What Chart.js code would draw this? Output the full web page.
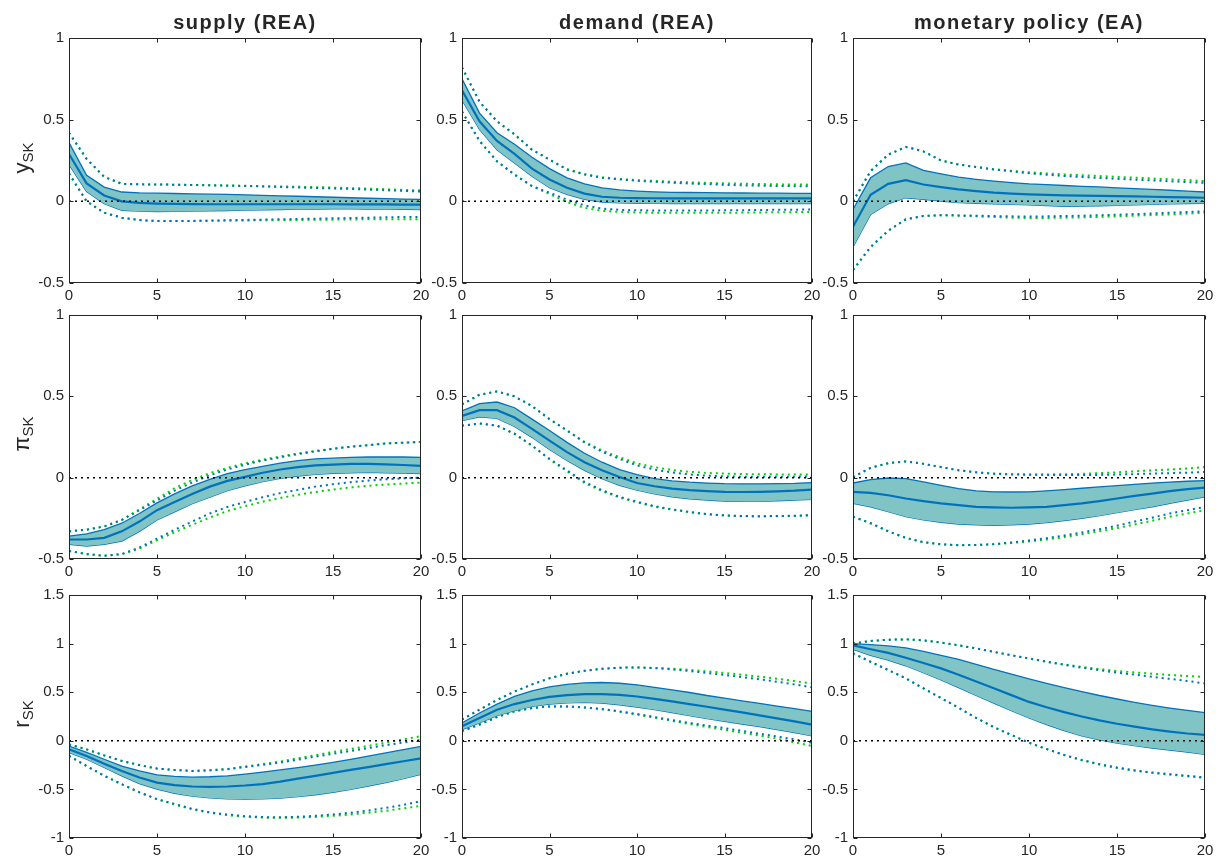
<!DOCTYPE html>
<html>
<head>
<meta charset="utf-8">
<script src="https://cdn.jsdelivr.net/npm/chart.js@4.4.0/dist/chart.umd.min.js"></script>
<style>
  body {
    margin: 0;
    background: #fff;
    width: 1221px;
    height: 864px;
    position: relative;
    overflow: hidden;
    font-family: "Liberation Sans", Arial, sans-serif;
  }
  .panel { position: absolute; }
  .title {
    position: absolute;
    font-weight: bold;
    font-size: 20px;
    line-height: 20px;
    letter-spacing: 1.5px;
    color: #262626;
    transform: translateX(-50%);
    white-space: nowrap;
  }
  .ylab {
    position: absolute;
    font-size: 22px;
    color: #262626;
    transform: translate(-50%, -50%) rotate(-90deg);
    white-space: nowrap;
  }
  .ylab sub { font-size: 15px; vertical-align: -4px; }
</style>
</head>
<body>
<script>
// horizons 0..20
const horizons = [0, 1, 2, 3, 4, 5, 6, 7, 8, 9, 10, 11, 12, 13, 14, 15, 16, 17, 18, 19, 20];
const zeroLine = [0, 0, 0, 0, 0, 0, 0, 0, 0, 0, 0, 0, 0, 0, 0, 0, 0, 0, 0, 0, 0];

const shockTitles = ["supply (REA)", "demand (REA)", "monetary policy (EA)"];
const varLabels = ["y<sub>SK</sub>", "π<sub>SK</sub>", "r<sub>SK</sub>"];
const yRanges = [[-0.5, 1], [-0.5, 1], [-1, 1.5]];
const xTicks = [0, 5, 10, 15, 20];

// ---- y_SK ----
const ySup_med = [0.29, 0.11, 0.036, 0.0, -0.01, -0.014, -0.016, -0.017, -0.018, -0.018, -0.018, -0.018, -0.018, -0.018, -0.018, -0.018, -0.019, -0.019, -0.019, -0.02, -0.02];
const ySup_hi = [0.36, 0.16, 0.087, 0.057, 0.052, 0.05, 0.048, 0.046, 0.044, 0.042, 0.04, 0.037, 0.034, 0.031, 0.028, 0.025, 0.022, 0.019, 0.016, 0.014, 0.012];
const ySup_lo = [0.225, 0.06, -0.015, -0.055, -0.06, -0.063, -0.062, -0.06, -0.058, -0.056, -0.054, -0.052, -0.05, -0.048, -0.047, -0.046, -0.046, -0.047, -0.048, -0.049, -0.05];
const ySup_dotHi = [0.42, 0.26, 0.15, 0.107, 0.104, 0.103, 0.102, 0.1, 0.098, 0.096, 0.094, 0.091, 0.088, 0.085, 0.082, 0.079, 0.076, 0.072, 0.068, 0.064, 0.06];
const ySup_dotHiG = [0.42, 0.26, 0.15, 0.107, 0.104, 0.103, 0.102, 0.1, 0.099, 0.097, 0.095, 0.093, 0.091, 0.089, 0.087, 0.084, 0.081, 0.078, 0.074, 0.07, 0.067];
const ySup_dotLo = [0.17, 0.0, -0.07, -0.1, -0.115, -0.12, -0.121, -0.12, -0.118, -0.116, -0.114, -0.112, -0.11, -0.108, -0.106, -0.104, -0.102, -0.1, -0.098, -0.096, -0.095];
const ySup_dotLoG = [0.17, 0.0, -0.07, -0.1, -0.115, -0.12, -0.121, -0.12, -0.119, -0.118, -0.117, -0.116, -0.115, -0.114, -0.113, -0.112, -0.111, -0.11, -0.11, -0.11, -0.11];

const yDem_med = [0.68, 0.49, 0.37, 0.29, 0.2, 0.134, 0.083, 0.047, 0.028, 0.022, 0.02, 0.019, 0.018, 0.018, 0.018, 0.018, 0.018, 0.018, 0.018, 0.018, 0.018];
const yDem_hi = [0.75, 0.54, 0.42, 0.35, 0.27, 0.2, 0.144, 0.107, 0.083, 0.07, 0.063, 0.058, 0.055, 0.054, 0.053, 0.052, 0.051, 0.05, 0.05, 0.049, 0.049];
const yDem_lo = [0.62, 0.44, 0.316, 0.235, 0.154, 0.083, 0.043, 0.012, -0.004, -0.01, -0.012, -0.013, -0.014, -0.014, -0.014, -0.014, -0.014, -0.014, -0.014, -0.014, -0.014];
const yDem_dotHi = [0.82, 0.61, 0.49, 0.41, 0.316, 0.255, 0.195, 0.164, 0.144, 0.134, 0.126, 0.12, 0.114, 0.109, 0.105, 0.101, 0.098, 0.096, 0.094, 0.093, 0.092];
const yDem_dotHiG = [0.82, 0.61, 0.49, 0.41, 0.316, 0.255, 0.197, 0.167, 0.148, 0.137, 0.13, 0.125, 0.12, 0.116, 0.113, 0.11, 0.108, 0.106, 0.104, 0.103, 0.102];
const yDem_dotLo = [0.55, 0.37, 0.245, 0.164, 0.093, 0.053, 0.01, -0.025, -0.045, -0.052, -0.055, -0.056, -0.056, -0.056, -0.056, -0.055, -0.054, -0.053, -0.052, -0.051, -0.05];
const yDem_dotLoG = [0.55, 0.37, 0.245, 0.164, 0.093, 0.045, -0.005, -0.04, -0.058, -0.065, -0.068, -0.07, -0.07, -0.07, -0.07, -0.07, -0.069, -0.068, -0.067, -0.066, -0.065];

const yMon_med = [-0.156, 0.04, 0.107, 0.13, 0.103, 0.087, 0.073, 0.062, 0.053, 0.047, 0.043, 0.04, 0.037, 0.035, 0.033, 0.032, 0.03, 0.028, 0.026, 0.024, 0.022];
const yMon_hi = [-0.05, 0.144, 0.213, 0.235, 0.19, 0.168, 0.148, 0.135, 0.124, 0.115, 0.107, 0.102, 0.097, 0.092, 0.088, 0.083, 0.078, 0.073, 0.068, 0.063, 0.057];
const yMon_lo = [-0.28, -0.08, -0.015, 0.022, 0.012, 0.002, -0.008, -0.012, -0.015, -0.019, -0.022, -0.026, -0.03, -0.029, -0.027, -0.025, -0.022, -0.019, -0.016, -0.014, -0.012];
const yMon_dotHi = [0.0, 0.185, 0.286, 0.333, 0.306, 0.25, 0.225, 0.21, 0.195, 0.184, 0.172, 0.163, 0.155, 0.149, 0.143, 0.138, 0.133, 0.128, 0.123, 0.118, 0.113];
const yMon_dotHiG = [0.0, 0.185, 0.286, 0.333, 0.306, 0.25, 0.225, 0.21, 0.197, 0.187, 0.178, 0.171, 0.165, 0.16, 0.155, 0.15, 0.145, 0.14, 0.135, 0.13, 0.124];
const yMon_dotLo = [-0.42, -0.28, -0.18, -0.11, -0.09, -0.085, -0.086, -0.088, -0.09, -0.092, -0.093, -0.092, -0.09, -0.088, -0.085, -0.082, -0.078, -0.074, -0.07, -0.065, -0.06];
const yMon_dotLoG = [-0.42, -0.28, -0.18, -0.11, -0.09, -0.085, -0.088, -0.092, -0.096, -0.1, -0.102, -0.102, -0.1, -0.098, -0.095, -0.092, -0.088, -0.084, -0.08, -0.075, -0.07];

// ---- pi_SK ----
const piSup_med = [-0.38, -0.38, -0.37, -0.33, -0.27, -0.2, -0.15, -0.1, -0.055, -0.02, 0.005, 0.03, 0.05, 0.065, 0.075, 0.08, 0.085, 0.085, 0.082, 0.078, 0.073];
const piSup_hi = [-0.36, -0.345, -0.32, -0.28, -0.22, -0.155, -0.1, -0.05, -0.01, 0.025, 0.05, 0.07, 0.09, 0.105, 0.115, 0.12, 0.125, 0.127, 0.127, 0.127, 0.125];
const piSup_lo = [-0.41, -0.42, -0.41, -0.39, -0.33, -0.26, -0.21, -0.16, -0.12, -0.08, -0.05, -0.025, -0.005, 0.01, 0.02, 0.027, 0.03, 0.032, 0.03, 0.028, 0.025];
const piSup_dotHi = [-0.33, -0.32, -0.3, -0.26, -0.2, -0.14, -0.08, -0.03, 0.015, 0.05, 0.08, 0.105, 0.125, 0.145, 0.162, 0.177, 0.19, 0.2, 0.21, 0.215, 0.22];
const piSup_dotHiG = [-0.33, -0.32, -0.3, -0.26, -0.195, -0.13, -0.065, -0.015, 0.028, 0.06, 0.088, 0.11, 0.13, 0.148, 0.164, 0.178, 0.19, 0.2, 0.21, 0.215, 0.22];
const piSup_dotLo = [-0.45, -0.47, -0.48, -0.47, -0.43, -0.375, -0.32, -0.27, -0.22, -0.18, -0.15, -0.12, -0.095, -0.075, -0.055, -0.04, -0.028, -0.018, -0.01, -0.004, 0.0];
const piSup_dotLoG = [-0.45, -0.47, -0.48, -0.47, -0.435, -0.385, -0.335, -0.29, -0.245, -0.205, -0.175, -0.148, -0.125, -0.105, -0.088, -0.073, -0.06, -0.05, -0.042, -0.036, -0.03];

const piDem_med = [0.38, 0.415, 0.415, 0.37, 0.3, 0.228, 0.157, 0.095, 0.045, 0.004, -0.033, -0.053, -0.067, -0.077, -0.083, -0.087, -0.088, -0.087, -0.084, -0.08, -0.073];
const piDem_hi = [0.41, 0.455, 0.465, 0.43, 0.36, 0.29, 0.217, 0.15, 0.095, 0.049, 0.018, -0.006, -0.02, -0.028, -0.033, -0.037, -0.038, -0.038, -0.037, -0.035, -0.03];
const piDem_lo = [0.35, 0.374, 0.364, 0.315, 0.248, 0.173, 0.106, 0.045, -0.006, -0.047, -0.077, -0.1, -0.118, -0.13, -0.138, -0.144, -0.146, -0.146, -0.142, -0.138, -0.134];
const piDem_dotHi = [0.45, 0.51, 0.53, 0.5, 0.44, 0.36, 0.29, 0.217, 0.16, 0.115, 0.075, 0.05, 0.032, 0.02, 0.012, 0.008, 0.006, 0.005, 0.005, 0.006, 0.008];
const piDem_dotHiG = [0.45, 0.51, 0.53, 0.5, 0.44, 0.36, 0.29, 0.22, 0.167, 0.126, 0.088, 0.065, 0.047, 0.036, 0.029, 0.025, 0.022, 0.021, 0.02, 0.02, 0.02];
const piDem_dotLo = [0.32, 0.333, 0.32, 0.27, 0.197, 0.116, 0.045, -0.026, -0.077, -0.118, -0.148, -0.175, -0.195, -0.21, -0.224, -0.232, -0.236, -0.237, -0.236, -0.234, -0.23];
const piDem_dotLoG = [0.32, 0.333, 0.32, 0.27, 0.197, 0.112, 0.04, -0.032, -0.082, -0.122, -0.152, -0.178, -0.197, -0.212, -0.225, -0.233, -0.237, -0.238, -0.237, -0.235, -0.232];

const piMon_med = [-0.087, -0.093, -0.108, -0.128, -0.144, -0.158, -0.169, -0.179, -0.183, -0.185, -0.183, -0.179, -0.169, -0.158, -0.144, -0.128, -0.112, -0.098, -0.083, -0.071, -0.061];
const piMon_hi = [-0.033, -0.012, -0.002, -0.006, -0.026, -0.047, -0.067, -0.081, -0.087, -0.088, -0.087, -0.081, -0.073, -0.065, -0.057, -0.049, -0.041, -0.033, -0.027, -0.022, -0.018];
const piMon_lo = [-0.158, -0.179, -0.209, -0.24, -0.26, -0.274, -0.285, -0.29, -0.293, -0.29, -0.285, -0.276, -0.264, -0.25, -0.234, -0.215, -0.197, -0.179, -0.158, -0.138, -0.118];
const piMon_dotHi = [0.004, 0.06, 0.089, 0.1, 0.085, 0.065, 0.045, 0.033, 0.024, 0.02, 0.018, 0.017, 0.016, 0.016, 0.017, 0.019, 0.022, 0.025, 0.028, 0.031, 0.035];
const piMon_dotHiG = [0.004, 0.06, 0.089, 0.1, 0.085, 0.065, 0.045, 0.033, 0.025, 0.021, 0.02, 0.02, 0.021, 0.023, 0.028, 0.033, 0.039, 0.045, 0.05, 0.057, 0.065];
const piMon_dotLo = [-0.24, -0.28, -0.33, -0.37, -0.397, -0.41, -0.415, -0.414, -0.408, -0.398, -0.386, -0.372, -0.355, -0.337, -0.317, -0.295, -0.27, -0.246, -0.22, -0.2, -0.18];
const piMon_dotLoG = [-0.24, -0.28, -0.33, -0.37, -0.397, -0.41, -0.415, -0.414, -0.41, -0.402, -0.392, -0.38, -0.365, -0.348, -0.33, -0.31, -0.288, -0.265, -0.24, -0.22, -0.2];

// ---- r_SK ----
const rSup_med = [-0.088, -0.156, -0.235, -0.31, -0.378, -0.43, -0.456, -0.47, -0.473, -0.47, -0.46, -0.445, -0.42, -0.39, -0.36, -0.33, -0.3, -0.27, -0.24, -0.21, -0.18];
const rSup_hi = [-0.054, -0.12, -0.19, -0.26, -0.31, -0.35, -0.367, -0.374, -0.37, -0.36, -0.343, -0.322, -0.3, -0.275, -0.25, -0.222, -0.19, -0.158, -0.125, -0.09, -0.058];
const rSup_lo = [-0.12, -0.19, -0.275, -0.36, -0.44, -0.497, -0.54, -0.57, -0.588, -0.598, -0.6, -0.598, -0.59, -0.575, -0.555, -0.53, -0.5, -0.465, -0.43, -0.39, -0.345];
const rSup_dotHi = [-0.037, -0.088, -0.15, -0.207, -0.25, -0.286, -0.3, -0.31, -0.303, -0.293, -0.27, -0.248, -0.224, -0.194, -0.163, -0.133, -0.105, -0.075, -0.045, -0.018, 0.01];
const rSup_dotHiG = [-0.037, -0.088, -0.15, -0.207, -0.25, -0.286, -0.3, -0.31, -0.303, -0.29, -0.265, -0.24, -0.213, -0.18, -0.148, -0.115, -0.085, -0.052, -0.02, 0.015, 0.048];
const rSup_dotLo = [-0.156, -0.26, -0.36, -0.446, -0.53, -0.6, -0.65, -0.7, -0.735, -0.758, -0.775, -0.785, -0.787, -0.782, -0.772, -0.758, -0.74, -0.717, -0.69, -0.66, -0.62];
const rSup_dotLoG = [-0.156, -0.26, -0.36, -0.446, -0.53, -0.6, -0.655, -0.705, -0.74, -0.765, -0.782, -0.79, -0.792, -0.79, -0.783, -0.772, -0.758, -0.74, -0.72, -0.695, -0.67];

const rDem_med = [0.15, 0.235, 0.32, 0.378, 0.42, 0.452, 0.47, 0.48, 0.48, 0.473, 0.456, 0.432, 0.405, 0.378, 0.35, 0.32, 0.293, 0.262, 0.231, 0.2, 0.167];
const rDem_hi = [0.184, 0.286, 0.378, 0.456, 0.514, 0.554, 0.58, 0.595, 0.6, 0.592, 0.575, 0.55, 0.524, 0.497, 0.466, 0.44, 0.41, 0.384, 0.357, 0.33, 0.303];
const rDem_lo = [0.116, 0.184, 0.258, 0.31, 0.354, 0.378, 0.39, 0.395, 0.388, 0.37, 0.347, 0.32, 0.29, 0.258, 0.228, 0.2, 0.173, 0.146, 0.116, 0.085, 0.05];
const rDem_dotHi = [0.218, 0.32, 0.42, 0.507, 0.58, 0.643, 0.69, 0.72, 0.741, 0.752, 0.755, 0.748, 0.735, 0.718, 0.698, 0.677, 0.655, 0.632, 0.608, 0.58, 0.55];
const rDem_dotHiG = [0.218, 0.32, 0.42, 0.507, 0.58, 0.643, 0.69, 0.72, 0.741, 0.752, 0.755, 0.75, 0.742, 0.73, 0.715, 0.698, 0.68, 0.66, 0.638, 0.615, 0.59];
const rDem_dotLo = [0.1, 0.167, 0.245, 0.303, 0.337, 0.354, 0.354, 0.343, 0.327, 0.303, 0.276, 0.245, 0.214, 0.184, 0.156, 0.13, 0.102, 0.073, 0.045, 0.015, -0.02];
const rDem_dotLoG = [0.1, 0.167, 0.245, 0.303, 0.337, 0.354, 0.354, 0.343, 0.325, 0.3, 0.27, 0.238, 0.205, 0.172, 0.142, 0.113, 0.083, 0.053, 0.022, -0.015, -0.054];

const rMon_med = [0.983, 0.942, 0.905, 0.854, 0.8, 0.745, 0.68, 0.61, 0.54, 0.47, 0.4, 0.345, 0.295, 0.25, 0.21, 0.175, 0.145, 0.118, 0.095, 0.075, 0.06];
const rMon_hi = [1.0, 0.99, 0.976, 0.956, 0.92, 0.88, 0.837, 0.786, 0.735, 0.687, 0.636, 0.59, 0.548, 0.507, 0.466, 0.43, 0.395, 0.364, 0.337, 0.313, 0.29];
const rMon_lo = [0.942, 0.88, 0.83, 0.772, 0.7, 0.626, 0.548, 0.466, 0.388, 0.31, 0.235, 0.167, 0.105, 0.05, 0.01, -0.024, -0.05, -0.075, -0.095, -0.116, -0.14];
const rMon_dotHi = [1.0, 1.027, 1.04, 1.044, 1.034, 1.01, 0.983, 0.95, 0.915, 0.88, 0.847, 0.813, 0.782, 0.752, 0.726, 0.702, 0.68, 0.658, 0.637, 0.615, 0.59];
const rMon_dotHiG = [1.0, 1.027, 1.04, 1.044, 1.034, 1.01, 0.983, 0.95, 0.915, 0.88, 0.847, 0.815, 0.786, 0.76, 0.738, 0.718, 0.704, 0.69, 0.677, 0.667, 0.656];
const rMon_dotLo = [0.9, 0.813, 0.728, 0.643, 0.54, 0.44, 0.34, 0.235, 0.14, 0.06, -0.02, -0.085, -0.146, -0.197, -0.24, -0.275, -0.303, -0.326, -0.343, -0.36, -0.377];
const rMon_dotLoG = [0.9, 0.813, 0.728, 0.643, 0.54, 0.44, 0.34, 0.235, 0.14, 0.06, -0.02, -0.085, -0.146, -0.2, -0.244, -0.28, -0.308, -0.33, -0.348, -0.365, -0.382];

// panel grid: rows = variable, cols = shock
const panels = [
  [
    [ySup_med, ySup_hi, ySup_lo, ySup_dotHi, ySup_dotLo, ySup_dotHiG, ySup_dotLoG],
    [yDem_med, yDem_hi, yDem_lo, yDem_dotHi, yDem_dotLo, yDem_dotHiG, yDem_dotLoG],
    [yMon_med, yMon_hi, yMon_lo, yMon_dotHi, yMon_dotLo, yMon_dotHiG, yMon_dotLoG],
  ],
  [
    [piSup_med, piSup_hi, piSup_lo, piSup_dotHi, piSup_dotLo, piSup_dotHiG, piSup_dotLoG],
    [piDem_med, piDem_hi, piDem_lo, piDem_dotHi, piDem_dotLo, piDem_dotHiG, piDem_dotLoG],
    [piMon_med, piMon_hi, piMon_lo, piMon_dotHi, piMon_dotLo, piMon_dotHiG, piMon_dotLoG],
  ],
  [
    [rSup_med, rSup_hi, rSup_lo, rSup_dotHi, rSup_dotLo, rSup_dotHiG, rSup_dotLoG],
    [rDem_med, rDem_hi, rDem_lo, rDem_dotHi, rDem_dotLo, rDem_dotHiG, rDem_dotLoG],
    [rMon_med, rMon_hi, rMon_lo, rMon_dotHi, rMon_dotLo, rMon_dotHiG, rMon_dotLoG],
  ],
];

// layout (pixel boxes of the plot areas)
const colLeft = [69, 462, 853];
const colWidth = [352, 350, 352];
const rowTop = [36, 313, 593];
const rowHeight = [247, 246, 245];
const padL = 50, padT = 12, padR = 18, padB = 26;

const BLUE = "#0072bd";
const GREEN = "#00d400";
const FILL = "#80c4c5";
const AXIS = "#262626";
const FONT = "'Liberation Sans', Arial, sans-serif";

const series = (vals) => horizons.map((h, i) => ({ x: h, y: vals[i] }));

// box + inward ticks like matlab
const framePlugin = {
  id: "frame",
  afterDraw(chart) {
    const { ctx, chartArea: a, scales } = chart;
    const L = Math.round(a.left) + 0.5, R = Math.round(a.right) - 0.5;
    const T = Math.round(a.top) + 0.5, B = Math.round(a.bottom) - 0.5;
    ctx.save();
    ctx.strokeStyle = AXIS;
    ctx.lineWidth = 1;
    ctx.strokeRect(L, T, R - L, B - T);
    ctx.beginPath();
    scales.x.ticks.forEach((t) => {
      const px = Math.round(scales.x.getPixelForValue(t.value)) + 0.5;
      ctx.moveTo(px, B); ctx.lineTo(px, B - 4);
      ctx.moveTo(px, T); ctx.lineTo(px, T + 4);
    });
    scales.y.ticks.forEach((t) => {
      const py = Math.round(scales.y.getPixelForValue(t.value)) + 0.5;
      ctx.moveTo(L, py); ctx.lineTo(L + 4, py);
      ctx.moveTo(R, py); ctx.lineTo(R - 4, py);
    });
    ctx.stroke();
    ctx.restore();
  },
};

function makePanel(row, col) {
  const [med, hi, lo, dotHi, dotLo, dotHiG, dotLoG] = panels[row][col];
  const w = colWidth[col] + padL + padR;
  const h = rowHeight[row] + padT + padB;
  const wrap = document.createElement("div");
  wrap.className = "panel";
  wrap.style.left = colLeft[col] - padL + "px";
  wrap.style.top = rowTop[row] - padT + "px";
  wrap.style.width = w + "px";
  wrap.style.height = h + "px";
  const canvas = document.createElement("canvas");
  canvas.width = w;
  canvas.height = h;
  canvas.style.width = w + "px";
  canvas.style.height = h + "px";
  wrap.appendChild(canvas);
  document.body.appendChild(wrap);

  const line = (vals, color, width, order, extra) =>
    Object.assign(
      {
        data: series(vals),
        borderColor: color,
        borderWidth: width,
        pointRadius: 0,
        tension: 0,
        fill: false,
        order: order,
      },
      extra || {}
    );
  const dotted = { borderDash: [2, 4], borderCapStyle: "butt" };

  new Chart(canvas.getContext("2d"), {
    type: "line",
    data: {
      datasets: [
        line(zeroLine, "#000", 1.5, 0, { borderDash: [2, 4] }),
        line(med, BLUE, 2.2, 1),
        line(hi, BLUE, 1.3, 2, { fill: "+1", backgroundColor: FILL }),
        line(lo, BLUE, 1.3, 2),
        line(dotHi, BLUE, 2, 3, dotted),
        line(dotLo, BLUE, 2, 3, dotted),
        line(dotHiG, GREEN, 2, 4, dotted),
        line(dotLoG, GREEN, 2, 4, dotted),
      ],
    },
    options: {
      responsive: false,
      devicePixelRatio: 1,
      animation: false,
      layout: { padding: { left: 0, top: padT, right: padR, bottom: 0 } },
      plugins: { legend: { display: false }, tooltip: { enabled: false } },
      scales: {
        x: {
          type: "linear",
          min: 0,
          max: 20,
          afterBuildTicks: (s) => { s.ticks = xTicks.map((v) => ({ value: v })); },
          ticks: { color: AXIS, font: { size: 15, family: FONT }, padding: 4, maxRotation: 0 },
          grid: { display: false, drawTicks: false },
          border: { display: false },
          afterFit: (s) => { s.height = padB; },
        },
        y: {
          min: yRanges[row][0],
          max: yRanges[row][1],
          ticks: {
            stepSize: 0.5,
            color: AXIS,
            font: { size: 15, family: FONT },
            padding: 5,
            callback: (v) => String(Math.round(v * 10) / 10),
          },
          grid: { display: false, drawTicks: false },
          border: { display: false },
          afterFit: (s) => { s.width = padL; },
        },
      },
    },
    plugins: [framePlugin],
  });
}

for (let r = 0; r < 3; r++) {
  for (let c = 0; c < 3; c++) makePanel(r, c);
}

// column titles
shockTitles.forEach((t, c) => {
  const d = document.createElement("div");
  d.className = "title";
  d.textContent = t;
  d.style.left = colLeft[c] + colWidth[c] / 2 + "px";
  d.style.top = "12px";
  document.body.appendChild(d);
});

// row labels
varLabels.forEach((t, r) => {
  const d = document.createElement("div");
  d.className = "ylab";
  d.innerHTML = t;
  d.style.left = "22px";
  d.style.top = rowTop[r] + rowHeight[r] / 2 - 2 + "px";
  document.body.appendChild(d);
});
</script>
</body>
</html>
